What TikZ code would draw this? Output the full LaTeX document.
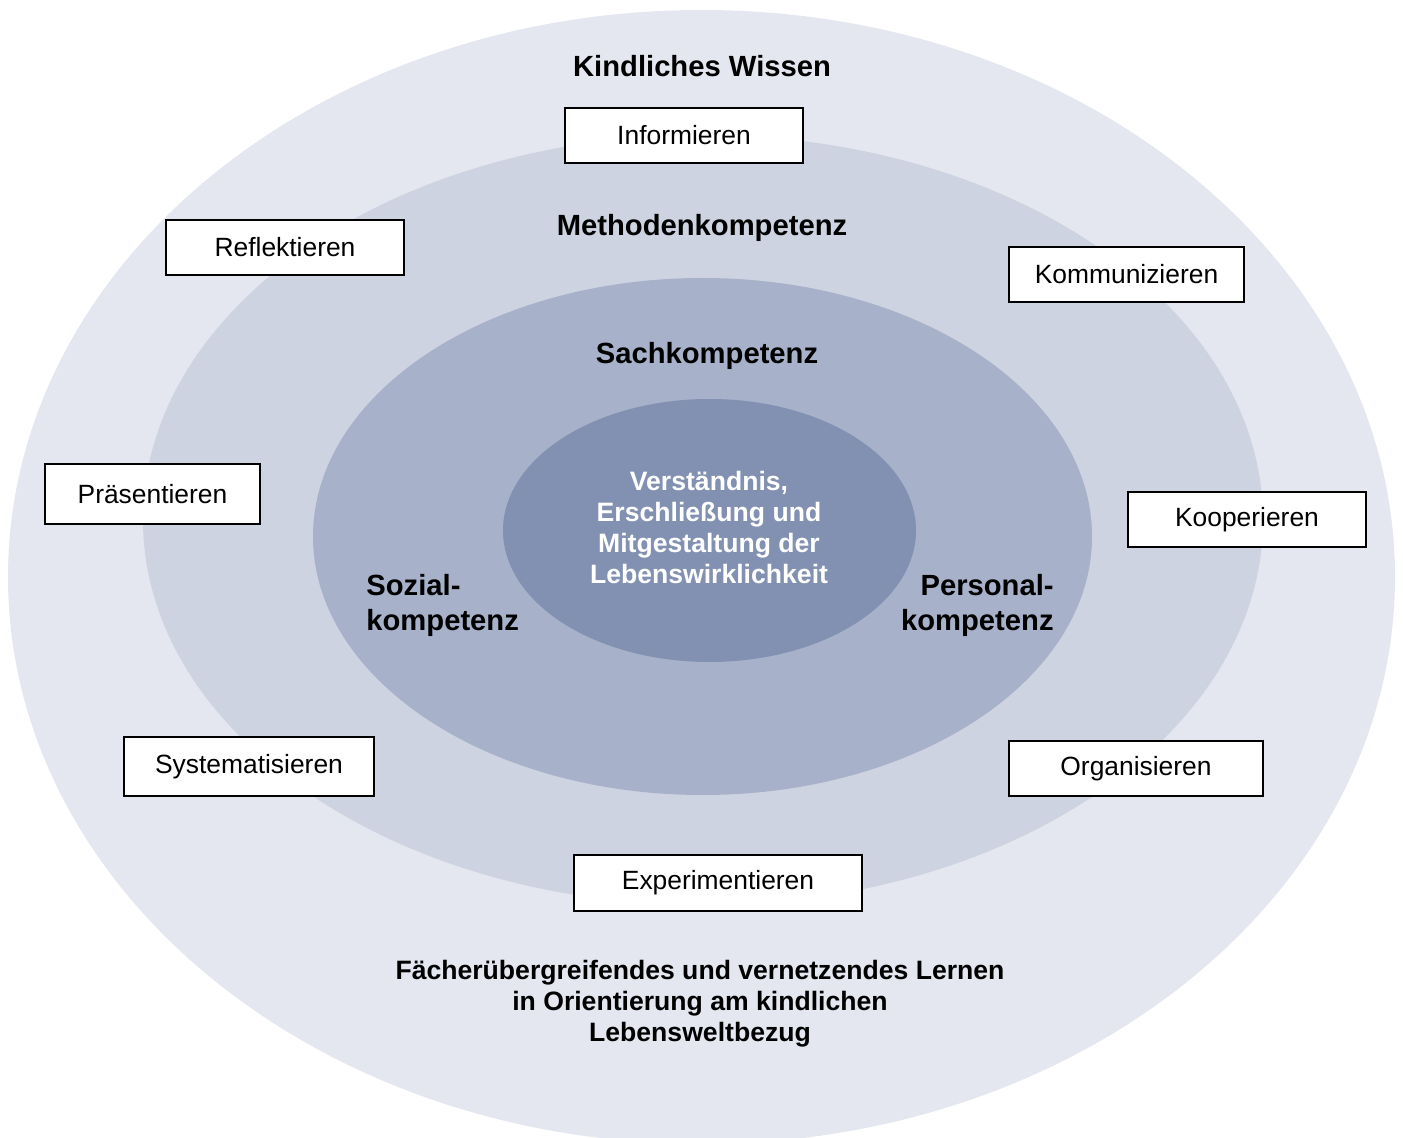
\documentclass[tikz,border=0pt]{standalone}
\usepackage{fontspec}
\setmainfont{Liberation Sans}
\definecolor{ringA}{HTML}{E4E7EF}
\definecolor{ringB}{HTML}{CDD3E0}
\definecolor{ringC}{HTML}{A7B1C9}
\definecolor{ringD}{HTML}{8291B2}
\begin{document}
\begin{tikzpicture}[x=0.5pt,y=-0.5pt,
  boxnode/.style={draw=black,line width=1pt,fill=white,inner sep=0pt,
    font=\fontsize{13.2}{15}\selectfont},
  biglabel/.style={inner sep=0pt,font=\fontsize{14.6}{17.5}\selectfont\bfseries},
  midlabel/.style={inner sep=0pt,font=\fontsize{13.3}{15.5}\selectfont\bfseries,align=center}]
\useasboundingbox (0,0) rectangle (1403,1138);
\begin{scope}
\clip (0,0) rectangle (1403,1138);
\fill[ringA] (701.5,577) ellipse [x radius=346.75pt, y radius=283.5pt];
\fill[ringB] (703,520) ellipse [x radius=280pt, y radius=192.5pt];
\fill[ringC] (702.5,536.5) ellipse [x radius=194.75pt, y radius=129.25pt];
\fill[ringD] (709.5,530.5) ellipse [x radius=103.25pt, y radius=65.75pt];
\end{scope}

\node[biglabel] (kw) at (702,66) {Kindliches Wissen};
\node[biglabel] (mk) at (702,228) {Methodenkompetenz};
\node[biglabel] (sk) at (707,356) {Sachkompetenz};
\node[midlabel,text=white,font=\fontsize{13.3}{15.35}\selectfont\bfseries] (core) at (709,527.5) {Verständnis,\\Erschließung und\\Mitgestaltung der\\Lebenswirklichkeit};
\node[biglabel,align=left,anchor=west] (soz) at (366,605) {Sozial-\\kompetenz};
\node[biglabel,align=right,anchor=east] (pers) at (1054,605) {Personal-\\kompetenz};
\node[midlabel] (bottom) at (700,1004) {Fächerübergreifendes und vernetzendes Lernen\\in Orientierung am kindlichen\\Lebensweltbezug};

\node[boxnode,minimum width=119pt,minimum height=27.5pt] (inf) at (684,135.5) {Informieren};
\node[boxnode,minimum width=119pt,minimum height=27.5pt] (ref) at (285,247.5) {Reflektieren};
\node[boxnode,minimum width=117.5pt,minimum height=27.5pt] (kom) at (1126.5,274.5) {Kommunizieren};
\node[boxnode,minimum width=107.5pt,minimum height=30pt] (pra) at (152.5,494) {Präsentieren};
\node[boxnode,minimum width=119pt,minimum height=27.5pt] (koo) at (1247,519.5) {Kooperieren};
\node[boxnode,minimum width=125pt,minimum height=29.5pt] (sys) at (249,766.5) {Systematisieren};
\node[boxnode,minimum width=127pt,minimum height=27.5pt] (org) at (1136,768.5) {Organisieren};
\node[boxnode,minimum width=144pt,minimum height=28pt] (exp) at (718,883) {Experimentieren};
\end{tikzpicture}
\end{document}
